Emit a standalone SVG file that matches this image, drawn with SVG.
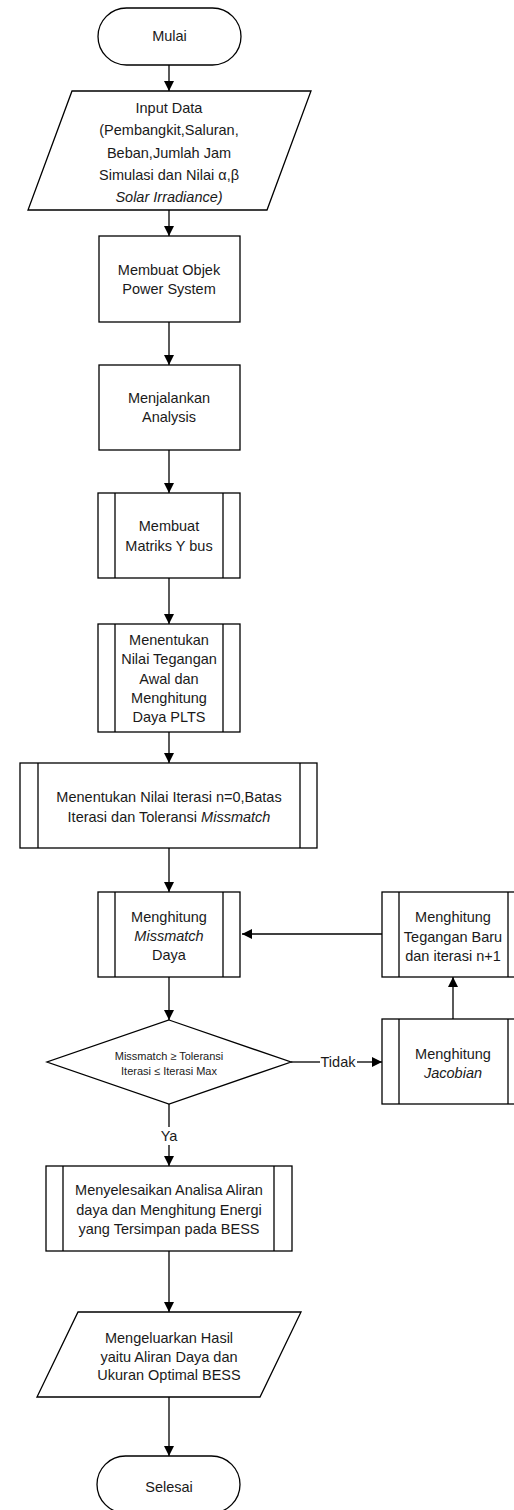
<svg xmlns="http://www.w3.org/2000/svg" width="514" height="1510" viewBox="0 0 514 1510">
<defs>
<marker id="ah" markerWidth="10" markerHeight="10" refX="10" refY="5" orient="auto" markerUnits="userSpaceOnUse">
<path d="M0,0 L10,5 L0,10 Z" fill="#000"/>
</marker>
<style>
.s{fill:#fff;stroke:#000;stroke-width:1.3}
.l{fill:none;stroke:#000;stroke-width:1.3}
.c{stroke:#000;stroke-width:1.3;fill:none;marker-end:url(#ah)}
text{font-family:"Liberation Sans",Arial,sans-serif;font-size:14.5px;fill:#1a1a1a;text-anchor:middle;dominant-baseline:central}
.i{font-style:italic}
.sm{font-size:11px}
</style>
</defs>
<rect width="514" height="1510" fill="#fff"/>
<g id="connectors">
<line class="c" x1="169" y1="65" x2="169" y2="91"/>
<line class="c" x1="169" y1="210" x2="169" y2="236"/>
<line class="c" x1="169" y1="322" x2="169" y2="365"/>
<line class="c" x1="169" y1="450" x2="169" y2="493"/>
<line class="c" x1="169" y1="578" x2="169" y2="624"/>
<line class="c" x1="169" y1="732" x2="169" y2="763"/>
<line class="c" x1="169" y1="848" x2="169" y2="892"/>
<line class="c" x1="169" y1="977" x2="169" y2="1020"/>
<line class="l" x1="169" y1="1104" x2="169" y2="1127"/>
<line class="c" x1="169" y1="1145" x2="169" y2="1166"/>
<text x="169" y="1136">Ya</text>
<line class="c" x1="169" y1="1251" x2="169" y2="1312"/>
<line class="c" x1="169" y1="1397" x2="169" y2="1456"/>
<line class="l" x1="291" y1="1062" x2="320" y2="1062"/>
<text x="338" y="1062">Tidak</text>
<line class="c" x1="357" y1="1062" x2="382" y2="1062"/>
<line class="c" x1="453" y1="1019" x2="453" y2="977"/>
<line class="c" x1="382" y1="934" x2="242" y2="934"/>
</g>
<g id="mulai">
<rect class="s" x="98" y="8" width="143" height="57" rx="28.5"/>
<text x="169.5" y="36">Mulai</text>
</g>
<g id="input">
<polygon class="s" points="72,91 311,91 267,210 28,210"/>
<text x="169" y="108">Input Data</text>
<text x="169" y="130">(Pembangkit,Saluran,</text>
<text x="169" y="153">Beban,Jumlah Jam</text>
<text x="169" y="175">Simulasi dan Nilai α,β</text>
<text x="169" y="197" class="i">Solar Irradiance)</text>
</g>
<g id="objek">
<rect class="s" x="99" y="236" width="141" height="86"/>
<text x="169" y="270">Membuat Objek</text>
<text x="169" y="289">Power System</text>
</g>
<g id="analysis">
<rect class="s" x="99" y="365" width="141" height="85"/>
<text x="169" y="398">Menjalankan</text>
<text x="169" y="417">Analysis</text>
</g>
<g id="ybus">
<rect class="s" x="98" y="493" width="142" height="85"/>
<line class="l" x1="115" y1="493" x2="115" y2="578"/>
<line class="l" x1="223" y1="493" x2="223" y2="578"/>
<text x="169" y="526">Membuat</text>
<text x="169" y="546">Matriks Y bus</text>
</g>
<g id="tegangan-awal">
<rect class="s" x="98" y="624" width="142" height="108"/>
<line class="l" x1="115" y1="624" x2="115" y2="732"/>
<line class="l" x1="223" y1="624" x2="223" y2="732"/>
<text x="169" y="640">Menentukan</text>
<text x="169" y="659">Nilai Tegangan</text>
<text x="169" y="679">Awal dan</text>
<text x="169" y="698">Menghitung</text>
<text x="169" y="717">Daya PLTS</text>
</g>
<g id="iterasi">
<rect class="s" x="20" y="763" width="297" height="85"/>
<line class="l" x1="38" y1="763" x2="38" y2="848"/>
<line class="l" x1="300" y1="763" x2="300" y2="848"/>
<text x="169" y="797">Menentukan Nilai Iterasi n=0,Batas</text>
<text x="169" y="817">Iterasi dan Toleransi <tspan class="i">Missmatch</tspan></text>
</g>
<g id="missmatch">
<rect class="s" x="98" y="892" width="142" height="85"/>
<line class="l" x1="115" y1="892" x2="115" y2="977"/>
<line class="l" x1="223" y1="892" x2="223" y2="977"/>
<text x="169" y="917">Menghitung</text>
<text x="169" y="936" class="i">Missmatch</text>
<text x="169" y="955">Daya</text>
</g>
<g id="decision">
<polygon class="s" points="169,1020 291,1062 169,1104 47,1062"/>
<text x="169" y="1056" class="sm">Missmatch ≥  Toleransi</text>
<text x="169" y="1071" class="sm">Iterasi ≤ Iterasi Max</text>
</g>
<g id="tegangan-baru">
<rect class="s" x="382" y="892" width="143" height="85"/>
<line class="l" x1="399" y1="892" x2="399" y2="977"/>
<line class="l" x1="508" y1="892" x2="508" y2="977"/>
<text x="453" y="917">Menghitung</text>
<text x="453" y="937">Tegangan Baru</text>
<text x="453" y="956">dan iterasi n+1</text>
</g>
<g id="jacobian">
<rect class="s" x="382" y="1019" width="143" height="85"/>
<line class="l" x1="399" y1="1019" x2="399" y2="1104"/>
<line class="l" x1="508" y1="1019" x2="508" y2="1104"/>
<text x="453" y="1054">Menghitung</text>
<text x="453" y="1073" class="i">Jacobian</text>
</g>
<g id="bess">
<rect class="s" x="46" y="1166" width="246" height="85"/>
<line class="l" x1="63" y1="1166" x2="63" y2="1251"/>
<line class="l" x1="274" y1="1166" x2="274" y2="1251"/>
<text x="169" y="1190">Menyelesaikan Analisa Aliran</text>
<text x="169" y="1210">daya dan Menghitung Energi</text>
<text x="169" y="1229">yang Tersimpan pada BESS</text>
</g>
<g id="output">
<polygon class="s" points="78,1312 301,1312 260,1397 37,1397"/>
<text x="169" y="1338">Mengeluarkan Hasil</text>
<text x="169" y="1357">yaitu Aliran Daya dan</text>
<text x="169" y="1375">Ukuran Optimal BESS</text>
</g>
<g id="selesai">
<rect class="s" x="97" y="1456" width="143" height="57" rx="28.5"/>
<text x="169" y="1487">Selesai</text>
</g>
</svg>
